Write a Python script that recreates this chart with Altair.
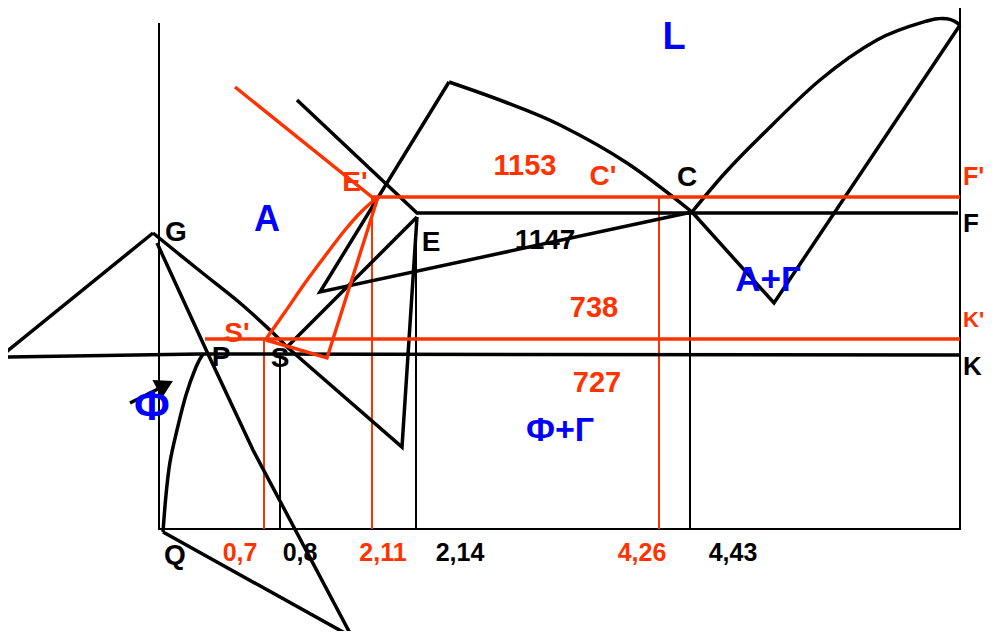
import altair as alt
import pandas as pd

BLACK = "#000000"
RED = "#FF3300"
BLUE = "#0000FF"

# ---- diagram geometry (schematic coordinates: x to the right, y downward) ----
# black bold straight polylines
left_triangle = [(0, 357), (153, 233)]
line_PSK = [(0, 357), (200, 354), (960, 355)]
line_GP = [(157, 243), (208, 354), (253, 450), (352, 637)]
line_Q = [(163, 532), (352, 637)]
line_S_low = [(287, 347), (402, 447), (417, 217)]
line_SE = [(288, 346), (417, 217)]
line_1147 = [(692, 212), (320, 292), (449, 82)]
line_EF = [(297, 100), (417, 213), (958, 213)]
line_CV = [(692, 212), (774, 303), (960, 25)]
arrow_shaft = [(130, 403), (158, 389)]

# black bold curves
curve_PQ = [(203, 354), (196, 367), (186, 395), (177, 430), (170, 462), (166, 495), (163, 532)]
curve_GS = [(153, 233), (200, 271), (240, 303), (272, 332), (287, 347)]
curve_liquidus = [(449, 82), (505, 102), (560, 125), (627, 163), (692, 212)]
curve_arc = [(692, 212), (725, 173), (760, 137), (820, 80), (877, 40), (927, 21), (948, 19), (960, 25)]

# black thin lines
axis_left = [(159, 23), (159, 529)]
axis_right = [(960, 7), (960, 529)]
axis_bottom = [(158, 529), (961, 529)]
drop_08 = [(280, 355), (280, 529)]
drop_214 = [(416, 217), (416, 529)]
drop_443 = [(690, 212), (690, 529)]

# red bold lines
red_EF = [(235, 87), (372, 197), (960, 197)]
red_SK = [(205, 339), (960, 339)]
red_tri = [(378, 197), (327, 358), (266, 340)]
red_curve = [(266, 339), (285, 312), (305, 283), (325, 256), (345, 230), (362, 211), (378, 197)]

# red thin lines
red_drop_07 = [(264, 339), (264, 529)]
red_drop_211 = [(372, 197), (372, 529)]
red_drop_426 = [(659, 197), (659, 529)]

# arrow head
arrow_tip = [(165, 385)]

# ---- labels (centred) ----
label_text = ["L", "A", "A+Г", "Ф+Г", "Ф",
              "G", "E", "P", "S", "C", "Q",
              "1147", "0,8", "2,14", "4,43",
              "1153", "738", "727", "C'", "E'", "S'",
              "0,7", "2,11", "4,26"]
label_x = [674, 267, 768, 560, 152,
           176, 431, 221, 280, 687, 175,
           545, 300, 460, 733,
           525, 594, 597, 603, 355, 237,
           240, 383, 642]
label_y = [38, 220, 280, 431, 407,
           233, 243, 358, 359, 178, 556,
           241, 553, 553, 553,
           166, 308, 383, 177, 183, 334,
           553, 553, 553]
label_color = [BLUE] * 5 + [BLACK] * 10 + [RED] * 9
label_size = [38, 36, 35, 34, 42,
              28, 28, 28, 28, 28, 28,
              28, 25, 25, 25,
              29, 29, 29, 28, 28, 28,
              25, 25, 25]

# ---- labels at the right edge (left-aligned) ----
edge_text = ["F'", "F", "K'", "K"]
edge_x = [963, 963, 963, 963]
edge_y = [177, 224, 320, 367]
edge_color = [RED, BLACK, RED, BLACK]
edge_size = [25, 26, 22, 26]


def frame(segments):
    rows = []
    for name, pts in segments.items():
        for i, (x, y) in enumerate(pts):
            rows.append({"seg": name, "i": i, "x": x, "y": y})
    return pd.DataFrame(rows)


black_lines = frame({"lt": left_triangle, "psk": line_PSK, "gp": line_GP, "q": line_Q,
                     "sl": line_S_low, "se": line_SE, "l1147": line_1147, "ef": line_EF,
                     "cv": line_CV, "arrow": arrow_shaft})
black_curves = frame({"pq": curve_PQ, "gs": curve_GS, "liq": curve_liquidus, "arc": curve_arc})
black_thin = frame({"al": axis_left, "ar": axis_right, "ab": axis_bottom,
                    "d08": drop_08, "d214": drop_214, "d443": drop_443})
red_lines = frame({"ref": red_EF, "rsk": red_SK, "rtri": red_tri})
red_curves = frame({"rc": red_curve})
red_thin = frame({"r07": red_drop_07, "r211": red_drop_211, "r426": red_drop_426})
tips = pd.DataFrame({"x": [p[0] for p in arrow_tip], "y": [p[1] for p in arrow_tip]})
labels = pd.DataFrame({"text": label_text, "x": label_x, "y": label_y,
                       "color": label_color, "size": label_size})
edge_labels = pd.DataFrame({"text": edge_text, "x": edge_x, "y": edge_y,
                            "color": edge_color, "size": edge_size})

X = alt.X("x:Q", scale=alt.Scale(domain=[8, 984], nice=False, zero=False), axis=None)
Y = alt.Y("y:Q", scale=alt.Scale(domain=[8, 631], nice=False, zero=False, reverse=True), axis=None)


def lines(df, color, width, interp="linear"):
    return alt.Chart(df).mark_line(color=color, strokeWidth=width, interpolate=interp).encode(
        x=X, y=Y, detail="seg:N", order="i:Q")


def texts(df, align):
    return alt.Chart(df).mark_text(font="Liberation Sans", fontWeight="bold",
                                   align=align, baseline="middle").encode(
        x=X, y=Y, text="text:N",
        color=alt.Color("color:N", scale=None),
        size=alt.Size("size:Q", scale=None))


layers = [
    lines(black_thin, BLACK, 2),
    lines(red_thin, RED, 2),
    lines(black_lines, BLACK, 3.5),
    lines(black_curves, BLACK, 3.5, "cardinal"),
    lines(red_lines, RED, 3.4),
    lines(red_curves, RED, 3.4, "cardinal"),
    alt.Chart(tips).mark_point(shape="triangle-right", filled=True, color=BLACK,
                               size=420, angle=333, opacity=1).encode(x=X, y=Y),
    texts(labels, "center"),
    texts(edge_labels, "left"),
]

chart = alt.layer(*layers).properties(
    width=976, height=623, padding=0,
    autosize=alt.AutoSizeParams(type="none")
).configure_view(strokeWidth=0)

chart.save("out.html", embed_options={"renderer": "svg", "actions": False})
